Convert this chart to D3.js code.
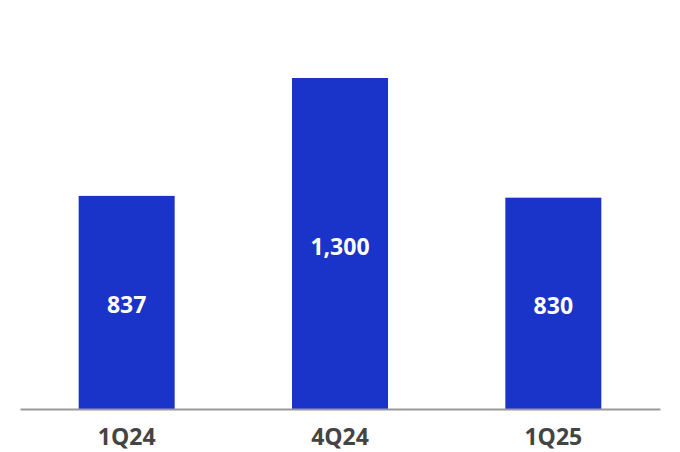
<!DOCTYPE html>
<html>
<head>
<meta charset="utf-8">
<script src="https://cdn.jsdelivr.net/npm/d3@7"></script>
<style>
  body { margin: 0; background: #fff; }
  svg { display: block; }
</style>
</head>
<body>
<svg id="chart" width="680" height="452"></svg>
<script>
// chart data
let quarters = ["1Q24", "4Q24", "1Q25"]
let values = [837, 1300, 830]
let valueLabels = ["837", "1,300", "830"]

let width = 680, height = 452
let baseY = 409, topY = 78

let svg = d3.select("#chart")

let x = d3.scaleBand()
  .domain(quarters)
  .range([20, 660])
  .paddingInner(0.55)
  .paddingOuter(0.275)

let y = d3.scaleLinear()
  .domain([0, d3.max(values)])
  .range([baseY, topY])

svg.selectAll("rect.bar")
  .data(values).enter()
  .append("rect")
    .attr("class", "bar")
    .attr("x", function(d, i){ return x(quarters[i]) })
    .attr("y", function(d){ return y(d) })
    .attr("width", x.bandwidth())
    .attr("height", function(d){ return baseY - y(d) })
    .attr("fill", "#1a33c8")

svg.selectAll("text.val")
  .data(values).enter()
  .append("text")
    .attr("class", "val")
    .attr("x", function(d, i){ return x(quarters[i]) + x.bandwidth() / 2 })
    .attr("y", function(d){ return (y(d) + baseY) / 2 + 2 })
    .attr("text-anchor", "middle")
    .attr("dominant-baseline", "central")
    .attr("fill", "#fff")
    .style("font-family", "'Open Sans', sans-serif")
    .style("font-weight", "700")
    .style("font-size", "23px")
    .text(function(d, i){ return valueLabels[i] })

// baseline axis
let axis = svg.append("g")
  .attr("transform", "translate(0," + baseY + ")")
  .call(d3.axisBottom(x).tickSize(0).tickPadding(20))

axis.select(".domain")
  .attr("stroke", "#999")
  .attr("stroke-width", 2)

axis.selectAll("text")
  .attr("fill", "#444")
  .style("font-family", "'Open Sans', sans-serif")
  .style("font-weight", "700")
  .style("font-size", "23px")
</script>
</body>
</html>
